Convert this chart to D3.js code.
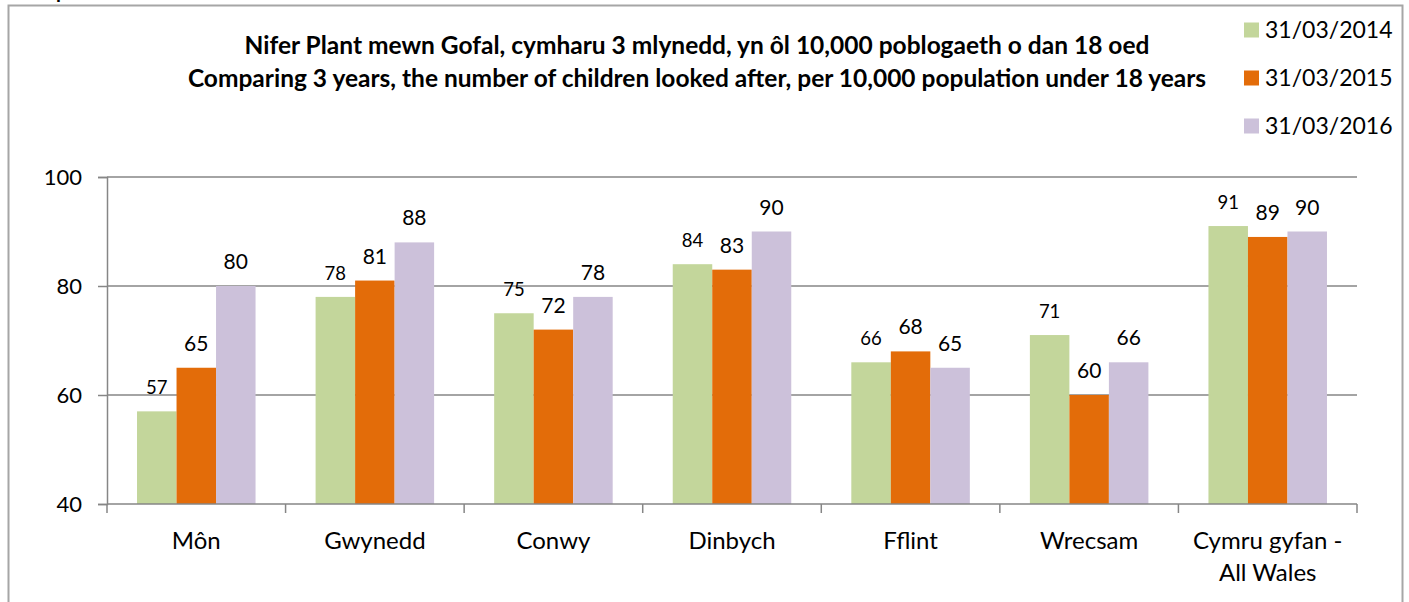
<!DOCTYPE html>
<html>
<head>
<meta charset="utf-8">
<script src="https://cdn.jsdelivr.net/npm/d3@7"></script>
<style>
  html, body { margin: 0; padding: 0; background: #fff; }
  svg { display: block; font-family: Lato, "Noto Sans", sans-serif; }
</style>
</head>
<body>
<svg id="chart" width="1409" height="602"></svg>
<script>
const categories = ["Môn", "Gwynedd", "Conwy", "Dinbych", "Fflint", "Wrecsam", "Cymru gyfan -\nAll Wales"];
const seriesNames = ["31/03/2014", "31/03/2015", "31/03/2016"];
const values2014 = [57, 78, 75, 84, 66, 71, 91];
const values2015 = [65, 81, 72, 83, 68, 60, 89];
const values2016 = [80, 88, 78, 90, 65, 66, 90];
const yTicks = [40, 60, 80, 100];
const titleLines = [
    "Nifer Plant mewn Gofal, cymharu 3 mlynedd, yn ôl 10,000 poblogaeth o dan 18 oed",
    "Comparing 3 years, the number of children looked after, per 10,000 population under 18 years"
];

const colors = ["#c3d69b", "#e36c09", "#ccc1da"];
const allValues = [values2014, values2015, values2016];

const svg = d3.select("#chart");

// outer frame
svg.append("rect")
    .attr("x", 8.5).attr("y", 5.5)
    .attr("width", 1394).attr("height", 620)
    .attr("fill", "none")
    .attr("stroke", "#a6a6a6")
    .attr("stroke-width", 2);

// cut-off fragment above the frame
svg.append("text")
    .attr("x", 56).attr("y", -2)
    .attr("font-size", 20).attr("font-weight", "bold")
    .text("p");

const margin = { top: 177, left: 107, right: 52, bottom: 98 };
const W = 1409, H = 602;

const x0 = d3.scaleBand()
    .domain(categories)
    .range([margin.left, W - margin.right])
    .padding(0);

const x1 = d3.scaleBand()
    .domain(seriesNames)
    .range([0, x0.bandwidth()])
    .paddingOuter(0.76)
    .paddingInner(0);

const y = d3.scaleLinear()
    .domain([40, 100])
    .range([H - margin.bottom, margin.top]);

// gridlines
svg.append("g")
    .selectAll("line")
    .data(yTicks.slice(1))
    .enter().append("line")
    .attr("x1", margin.left).attr("x2", W - margin.right)
    .attr("y1", d => y(d)).attr("y2", d => y(d))
    .attr("stroke", "#868686")
    .attr("stroke-width", 1.5);

// y axis
const yAxis = svg.append("g")
    .attr("transform", `translate(${margin.left},0)`)
    .call(d3.axisLeft(y).tickValues(yTicks).tickSize(9).tickPadding(16));
yAxis.select(".domain").attr("stroke", "#868686").attr("stroke-width", 1.5);
yAxis.selectAll(".tick line").attr("stroke", "#868686").attr("stroke-width", 1.5);
yAxis.selectAll(".tick text")
    .attr("font-family", "Lato, sans-serif")
    .attr("font-size", 22)
    .attr("fill", "#000");

// bars
const groups = svg.append("g")
    .selectAll("g")
    .data(categories)
    .enter().append("g")
    .attr("transform", d => `translate(${x0(d)},0)`);

seriesNames.forEach((s, si) => {
    groups.append("rect")
        .attr("x", x1(s))
        .attr("width", x1.bandwidth())
        .attr("y", (d, i) => y(allValues[si][i]))
        .attr("height", (d, i) => y(40) - y(allValues[si][i]))
        .attr("fill", colors[si]);

    groups.append("text")
        .attr("x", x1(s) + x1.bandwidth() / 2)
        .attr("y", (d, i) => y(allValues[si][i]) - 17)
        .attr("text-anchor", "middle")
        .attr("font-size", si === 0 ? 18.5 : 21)
        .attr("fill", "#000")
        .text((d, i) => allValues[si][i]);
});

// x axis
const xAxis = svg.append("g")
    .attr("transform", `translate(0,${y(40)})`);
xAxis.append("line")
    .attr("x1", margin.left).attr("x2", W - margin.right)
    .attr("stroke", "#868686").attr("stroke-width", 1.5);
const bounds = categories.map(c => x0(c)).concat([x0.range()[1]]);
xAxis.selectAll(".tk")
    .data(bounds)
    .enter().append("line")
    .attr("class", "tk")
    .attr("x1", d => d).attr("x2", d => d)
    .attr("y1", 0).attr("y2", 9)
    .attr("stroke", "#868686").attr("stroke-width", 1.5);

xAxis.selectAll(".cat")
    .data(categories)
    .enter().append("text")
    .attr("class", "cat")
    .attr("text-anchor", "middle")
    .attr("font-size", 24)
    .attr("fill", "#000")
    .each(function (d) {
        const t = d3.select(this);
        d.split("\n").forEach((line, li) => {
            t.append("tspan")
                .attr("x", x0(d) + x0.bandwidth() / 2)
                .attr("y", 45 + li * 32)
                .text(line);
        });
    });

// title
svg.append("g")
    .selectAll("text")
    .data(titleLines)
    .enter().append("text")
    .attr("x", 697)
    .attr("y", (d, i) => 53.5 + i * 33)
    .attr("text-anchor", "middle")
    .attr("font-size", 24.5)
    .attr("font-weight", "bold")
    .attr("fill", "#000")
    .text(d => d);

// legend
const legend = svg.append("g")
    .selectAll("g")
    .data(seriesNames)
    .enter().append("g")
    .attr("transform", (d, i) => `translate(1244,${30 + i * 48})`);
legend.append("rect")
    .attr("x", 0).attr("y", -7.5)
    .attr("width", 15).attr("height", 15)
    .attr("fill", (d, i) => colors[i]);
legend.append("text")
    .attr("x", 21).attr("y", 8)
    .attr("font-size", 23)
    .attr("fill", "#000")
    .text(d => d);
</script>
</body>
</html>
